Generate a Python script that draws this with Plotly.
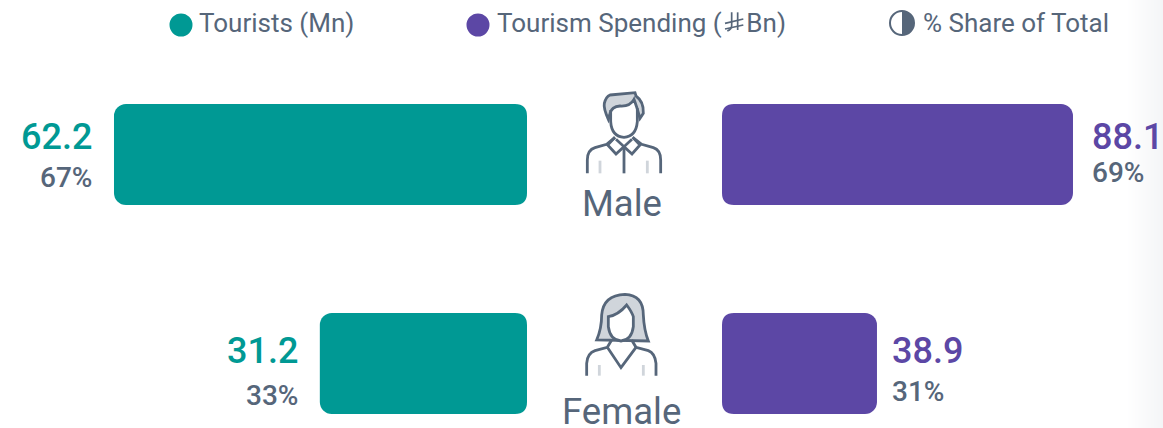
import re
import plotly.graph_objects as go

categories = ["Male", "Female"]
tourists = [62.2, 31.2]
tourist_share = ["67%", "33%"]
spending = [88.1, 38.9]
spending_share = ["69%", "31%"]
legend_labels = ["Tourists (Mn)", "Tourism Spending (\u00a0\u00a0\u00a0\u2009Bn)", "% Share of Total"]

TEAL = "#009994"
PURPLE = "#5c47a5"
GREY = "#56667a"
LIGHT = "#d0d5db"
FONT = "Roboto"
W, H = 1163, 428


def place(path, ox, oy, s=1 / 3):
    nums = iter(range(10**6))
    def rep(m):
        i = next(nums)
        v = float(m.group(0))
        return f"{(ox if i % 2 == 0 else oy) + v * s:.2f}"
    return re.sub(r"-?\d+\.?\d*", rep, path)


fig = go.Figure()
fig.add_trace(go.Bar(y=categories, x=tourists, orientation="h", marker_color=TEAL,
                     marker_line_width=0, xaxis="x", yaxis="y", showlegend=False))
fig.add_trace(go.Bar(y=categories, x=spending, orientation="h", marker_color=PURPLE,
                     marker_line_width=0, xaxis="x2", yaxis="y2", showlegend=False))

anns = []
for i, c in enumerate(categories):
    anns += [
        dict(x=tourists[i], y=c, xref="x", yref="y", text=f"{tourists[i]}", xanchor="right",
             xshift=-20, yshift=18 if i == 0 else 13, showarrow=False,
             font=dict(family=FONT, size=36, color=TEAL, weight=500)),
        dict(x=tourists[i], y=c, xref="x", yref="y", text=tourist_share[i], xanchor="right",
             xshift=-20, yshift=-23 if i == 0 else -32, showarrow=False,
             font=dict(family=FONT, size=28, color=GREY, weight=500)),
        dict(x=spending[i], y=c, xref="x2", yref="y2", text=f"{spending[i]}", xanchor="left",
             xshift=17 if i == 0 else 13, yshift=18 if i == 0 else 13, showarrow=False,
             font=dict(family=FONT, size=36, color=PURPLE, weight=500)),
        dict(x=spending[i], y=c, xref="x2", yref="y2", text=spending_share[i], xanchor="left",
             xshift=17 if i == 0 else 13, yshift=-18 if i == 0 else -28, showarrow=False,
             font=dict(family=FONT, size=28, color=GREY, weight=500)),
    ]

label_pos = [(622, 203), (621.5, 411)]
for c, (x, y) in zip(categories, label_pos):
    anns.append(dict(x=x, y=y, xref="x3", yref="y3", text=c, showarrow=False,
                     font=dict(family=FONT, size=36.5, color=GREY)))
legend_x = [197, 495, 921]
for t, x in zip(legend_labels, legend_x):
    anns.append(dict(x=x, y=23, xref="x3", yref="y3", text=t, xanchor="left", showarrow=False,
                     font=dict(family=FONT, size=26, color=GREY)))

shapes = []
def S(**k):
    k.setdefault("xref", "x3")
    k.setdefault("yref", "y3")
    shapes.append(k)

# soft right-edge fade, painted beneath the data
for i in range(36):
    t = (i + 1) / 36
    col = f"rgb({255 - 11 * t:.0f},{255 - 10 * t:.0f},{255 - 8 * t:.0f})"
    S(type="rect", x0=1127 + i, x1=1128.5 + i, y0=0, y1=H, fillcolor=col, line_width=0, layer="below")

# inner bar corners rounded to match the outer ones
R = 12
for top in (104, 313):
    bottom = top + 101
    for edge, d in ((527, -1), (722, 1)):
        for y0, dy in ((top, 1), (bottom, -1)):
            e, o = edge - d, y0 - dy
            S(type="path", fillcolor="white", line_width=0,
              path=f"M{e} {o} L{edge + d * R} {o} L{edge + d * R} {y0} Q{edge} {y0} {edge} {y0 + dy * R} L{e} {y0 + dy * R} Z")

# legend markers
S(type="circle", x0=169.5, x1=192.5, y0=13.5, y1=36.5, fillcolor=TEAL, line_width=0)
S(type="circle", x0=466.5, x1=489.5, y0=13.5, y1=36.5, fillcolor=PURPLE, line_width=0)
S(type="circle", x0=890, x1=914, y0=11, y1=35, fillcolor="white", line=dict(color=GREY, width=2))
S(type="path", path="M902 11 C909 11 914 16 914 23 C914 30 909 35 902 35 Z", fillcolor=GREY, line_width=0)

# currency glyph in the legend
for p in ["M125 22 L125 62 Q125 72 112 78", "M143 22 L143 75", "M105 55 L160 42", "M105 72 L160 60"]:
    S(type="path", path=place(p, 690, 5), line=dict(color=GREY, width=1.7))

ICON = dict(color=GREY, width=2.8)
# male icon
mx, my = 560, 80
S(type="path", path=place("M150 45 L225 38 L228 48 Q252 65 250 100 L240 115 Q232 85 222 58 Q210 80 180 78 Q155 80 150 100 L145 118 Q130 85 133 70 Q138 50 150 45 Z", mx, my),
  fillcolor=LIGHT, line=ICON)
S(type="path", path=place("M152 90 L152 125 Q155 170 192 172 Q228 170 232 125 L232 85", mx, my), line=ICON)
for p in ["M82 280 L82 240 Q82 210 105 203 L140 193 L165 172", "M302 280 L302 240 Q302 210 280 203 L245 193 L218 172",
          "M165 172 L143 195 L168 222 L192 200 L216 222 L240 195 L218 172", "M168 178 L192 200 L216 178", "M192 200 L192 280"]:
    S(type="path", path=place(p, mx, my), line=ICON)
for p in ["M120 242 L120 280", "M262 242 L262 280"]:
    S(type="path", path=place(p, mx, my), line=dict(color=LIGHT, width=2.8))

# female icon
fx, fy = 550, 285
S(type="path", path=place("M140 165 Q155 130 155 90 Q160 30 225 28 Q280 30 280 90 Q282 135 295 168 L140 165 Z", fx, fy),
  fillcolor=LIGHT, line=ICON)
S(type="path", path=place("M175 95 Q205 90 230 60 Q245 80 250 95 L250 125 Q245 165 213 168 Q180 165 175 125 Z", fx, fy),
  fillcolor="white", line=ICON)
for p in ["M110 272 L110 235 Q112 205 135 197 L172 187 L185 165", "M318 272 L318 235 Q315 205 295 197 L258 187 L245 165",
          "M172 187 L213 248 L258 187"]:
    S(type="path", path=place(p, fx, fy), line=ICON)
for p in ["M148 240 L148 272", "M280 240 L280 272"]:
    S(type="path", path=place(p, fx, fy), line=dict(color=LIGHT, width=2.8))

hidden = dict(visible=False, showgrid=False, zeroline=False, fixedrange=True)
yr = [(428 - 154.5) / 209, -154.5 / 209]
fig.update_layout(
    width=W, height=H, autosize=False,
    margin=dict(l=0, r=0, t=0, b=0, pad=0),
    paper_bgcolor="white", plot_bgcolor="rgba(0,0,0,0)",
    barmode="overlay", bargap=1 - 101 / 209, barcornerradius=12,
    xaxis=dict(hidden, domain=[0, 527 / W], range=[527 / 6.64, 0], anchor="y"),
    yaxis=dict(hidden, domain=[0, 1], range=yr, type="category", categoryorder="array", categoryarray=categories, anchor="x"),
    xaxis2=dict(hidden, domain=[722 / W, 1], range=[0, 441 / 3.984], anchor="y2"),
    yaxis2=dict(hidden, domain=[0, 1], range=yr, type="category", categoryorder="array", categoryarray=categories, anchor="x2"),
    xaxis3=dict(hidden, domain=[0, 1], range=[0, W], anchor="y3"),
    yaxis3=dict(hidden, domain=[0, 1], range=[H, 0], anchor="x3"),
    annotations=anns, shapes=shapes, showlegend=False,
)
fig.add_trace(go.Scatter(x=[0], y=[0], xaxis="x3", yaxis="y3", mode="markers", marker_opacity=0,
                         hoverinfo="skip", showlegend=False))
fig.write_html("out.html", config=dict(displayModeBar=False),
               post_script="document.body.style.margin='0';document.body.style.overflow='hidden';")
